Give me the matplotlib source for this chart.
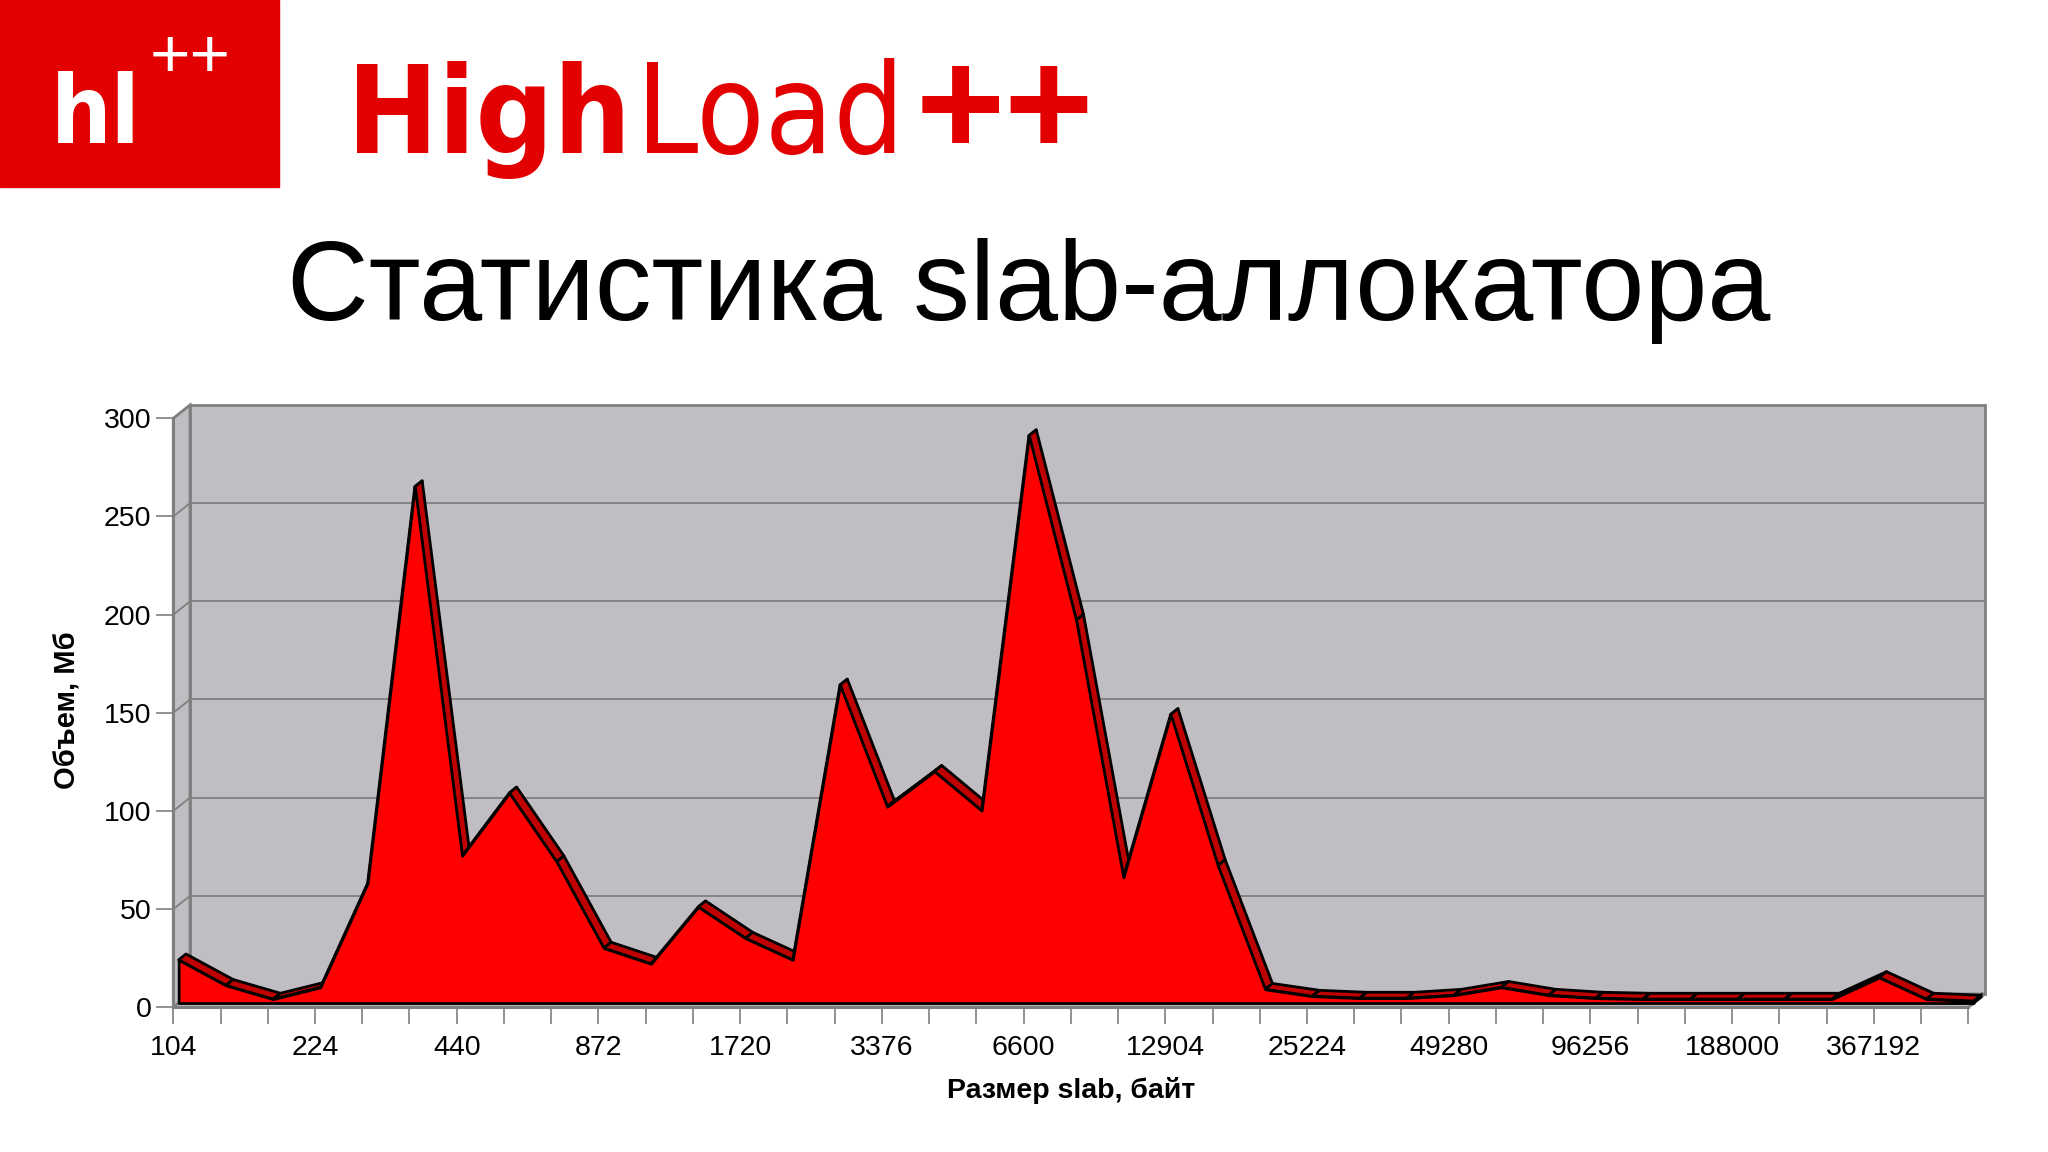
import numpy as np
import matplotlib
matplotlib.use("Agg")
import matplotlib.pyplot as plt
from matplotlib.patches import Polygon, Rectangle

# размеры slab-классов (байт) и объем памяти в каждом (Мб)
slab_sizes = [104, 136, 176, 224, 280, 352, 440, 552, 696, 872, 1096, 1376,
              1720, 2152, 2696, 3376, 4224, 5280, 6600, 8256, 10320, 12904,
              16136, 20176, 25224, 31536, 39424, 49280, 61600, 77000, 96256,
              120320, 150400, 188000, 235000, 293752, 367192, 458992, 573744]
volume_mb = [22, 9, 2, 8, 61, 263, 75, 107, 72, 28, 20, 49,
             33, 22, 162, 100, 118, 98, 289, 195, 64, 147,
             70, 7, 3.5, 2.5, 2.5, 4, 8, 4, 2.5,
             2, 2, 2, 2, 2, 13, 2, 1]
y_ticks = [0, 50, 100, 150, 200, 250, 300]
x_labels = [str(s) if i % 3 == 0 else "" for i, s in enumerate(slab_sizes)]

title = "Статистика slab-аллокатора"
x_title = "Размер slab, байт"
y_title = "Объем, Мб"

plt.rcParams["font.family"] = ["Liberation Sans", "DejaVu Sans"]

W, H = 2048, 1152
WALL = "#c0bec2"
EDGE = "#7f7f7f"
RED = "#ff0000"
DARKRED = "#c00000"
LOGO = "#e30000"

def fx(px):
    return px / W

def fy(py):
    return 1 - py / H

fig = plt.figure(figsize=(W / 100, H / 100), dpi=100)
renderer = fig.canvas.get_renderer()

def fit_width(t, target):
    # подгоняем кегль под ширину надписи на исходнике
    for _ in range(3):
        bb = t.get_window_extent(renderer)
        t.set_fontsize(t.get_fontsize() * target / bb.width)
    return t

# --- шапка
fig.patches.append(Rectangle((0, fy(187)), fx(279), 187 / H, transform=fig.transFigure,
                             color=LOGO, zorder=0))
t = fig.text(fx(51), fy(143), "hl", color="white", fontsize=88, fontweight="bold",
             family="DejaVu Sans", fontstretch="condensed", ha="left", va="baseline")
fit_width(t, 90)
fig.text(fx(190), fy(77), "++", color="white", fontsize=50, ha="center", va="baseline")

t = fig.text(fx(347), fy(153), "High", color=LOGO, fontsize=100, fontweight="bold",
             family="DejaVu Sans", fontstretch="condensed", ha="left", va="baseline")
fit_width(t, 284)
t = fig.text(fx(636), fy(153), "Load", color=LOGO, fontsize=100,
             family="DejaVu Sans", fontstretch="condensed", ha="left", va="baseline")
fit_width(t, 268)
fig.text(fx(1005), fy(155), "++", color=LOGO, fontsize=110, fontweight="bold",
         ha="center", va="baseline")

fig.text(fx(1029), fy(320), title, fontsize=81.5, ha="center", va="baseline")

# --- график (псевдо-3D как в Excel)
n = len(slab_sizes)
x = np.arange(n)
y = np.array(volume_mb, dtype=float)
xmax = n - 1

ax = fig.add_axes([fx(173.3), fy(1007.3), 1795 / W, 589 / H])
ax.set_xlim(0, xmax)
ax.set_ylim(0, 300)
for s in ax.spines.values():
    s.set_visible(False)
ax.patch.set_visible(False)

DX = 16.7 / 47.24   # глубина в единицах категорий
DY = 13.3 / 1.963   # глубина в единицах Мб
D0, D1 = 0.32, 0.76

ax.add_patch(Rectangle((DX, DY), xmax, 300, fc=WALL, ec=EDGE, lw=2, zorder=0, clip_on=False))
ax.add_patch(Polygon([(0, 0), (DX, DY), (DX, 300 + DY), (0, 300)], closed=True,
                     fc=WALL, ec=EDGE, lw=2, zorder=0, clip_on=False))
ax.add_patch(Polygon([(0, 0), (xmax, 0), (xmax + DX, DY), (DX, DY)], closed=True,
                     fc=WALL, ec=EDGE, lw=2, zorder=0, clip_on=False))
for v in y_ticks[1:-1]:
    ax.plot([DX, xmax + DX], [v + DY, v + DY], color=EDGE, lw=1.3, zorder=1, clip_on=False)
    ax.plot([0, DX], [v, v + DY], color=EDGE, lw=1.3, zorder=1, clip_on=False)

# верхняя грань области
for i in range(n - 1):
    quad = [(x[i] + D0 * DX, y[i] + D0 * DY), (x[i + 1] + D0 * DX, y[i + 1] + D0 * DY),
            (x[i + 1] + D1 * DX, y[i + 1] + D1 * DY), (x[i] + D1 * DX, y[i] + D1 * DY)]
    ax.add_patch(Polygon(quad, closed=True, fc=DARKRED, ec="black", lw=2,
                         joinstyle="round", zorder=3, clip_on=False))
cap = [(xmax + D0 * DX, D0 * DY), (xmax + D0 * DX, y[-1] + D0 * DY),
       (xmax + D1 * DX, y[-1] + D1 * DY), (xmax + D1 * DX, D1 * DY)]
ax.add_patch(Polygon(cap, closed=True, fc=DARKRED, ec="black", lw=2, zorder=3, clip_on=False))

# передняя грань
ax.fill_between(x + D0 * DX, y + D0 * DY, D0 * DY, facecolor=RED, edgecolor="black",
                lw=2, joinstyle="round", zorder=4, clip_on=False)

ax.plot([0, 0], [0, 300], color=EDGE, lw=2.2, zorder=5, clip_on=False)
ax.plot([0, xmax], [0, 0], color=EDGE, lw=2.2, zorder=5, clip_on=False)

ax.set_xticks(x)
ax.set_xticklabels(x_labels)
ax.set_yticks(y_ticks)
ax.tick_params(axis="x", length=12.2, width=1.2, color=EDGE, pad=8, labelsize=20.5)
ax.tick_params(axis="y", length=12.2, width=1.2, color=EDGE, pad=3.6, labelsize=20.5)

fig.text(fx(68), fy(710), y_title, rotation=90, fontsize=21, fontweight="bold",
         ha="center", va="center")
fig.text(fx(1071), fy(1090), x_title, fontsize=20.5, fontweight="bold",
         ha="center", va="center")

fig.savefig("out.png", dpi=100, facecolor="white")
